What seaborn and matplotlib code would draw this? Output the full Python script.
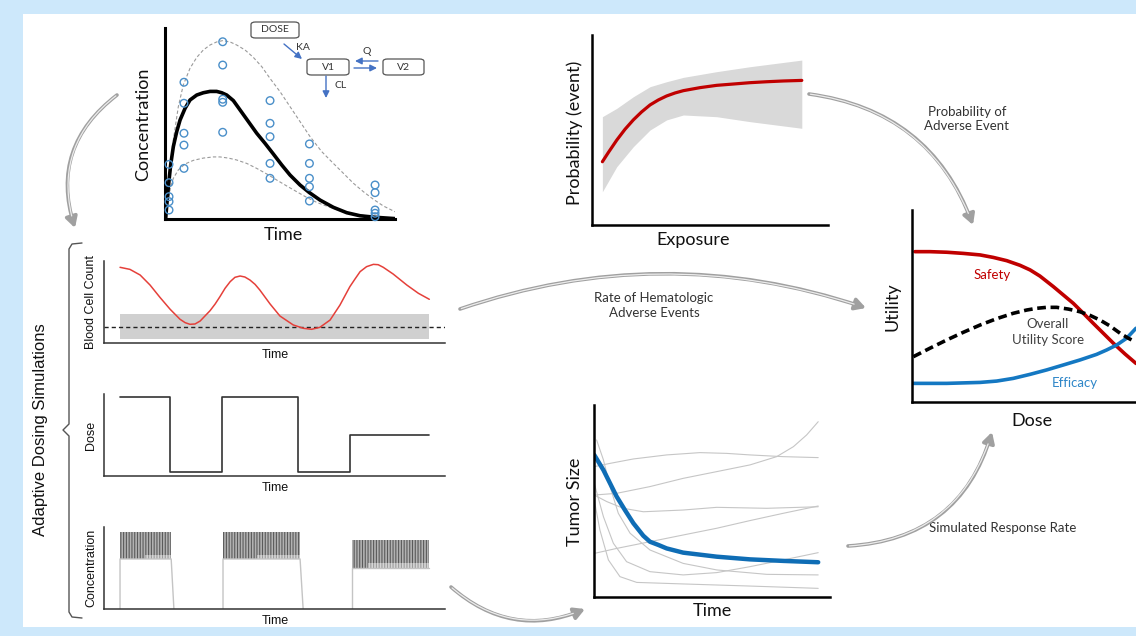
import matplotlib
matplotlib.use("Agg")
import matplotlib.pyplot as plt
import seaborn as sns
from matplotlib.patches import FancyArrowPatch, Rectangle, FancyBboxPatch
from matplotlib.lines import Line2D

W, H = 1136, 636

# ---------------- data ----------------
# PK panel (time in h, concentration arbitrary)
pk_mean_t = [0.07, 0.17, 0.35, 0.59, 0.87, 1.22, 1.57, 2.09, 2.61, 3.31, 4.0, 4.70, 5.39, 5.92, 6.44,
             7.13, 7.83, 8.70, 9.57, 10.44, 11.31, 12.18, 13.05, 14.09, 15.07, 16.18, 17.57, 18.96,
             20.35, 21.92, 24.0]
pk_mean_c = [0.03, 0.65, 1.69, 2.83, 3.79, 4.57, 5.18, 5.79, 6.23, 6.49, 6.61, 6.68, 6.68, 6.61, 6.49,
             6.20, 5.71, 5.10, 4.49, 3.96, 3.40, 2.83, 2.30, 1.78, 1.38, 0.99, 0.61, 0.33,
             0.17, 0.09, 0.02]
pk_hi_t = [0.17, 0.35, 0.59, 0.87, 1.39, 1.91, 2.61, 3.31, 4.0, 4.70, 5.39, 6.02, 6.79, 7.48, 8.35,
           9.22, 10.09, 10.96, 12.0, 13.05, 14.09, 15.14, 16.35, 17.57, 18.62, 19.66, 20.70, 21.75,
           22.79, 24.0]
pk_hi_c = [0.30, 1.34, 2.74, 4.14, 5.88, 7.02, 7.89, 8.46, 8.85, 9.11, 9.27, 9.34, 9.27, 9.11, 8.85,
           8.46, 7.98, 7.36, 6.67, 5.88, 5.10, 4.31, 3.53, 2.91, 2.39, 1.87, 1.43, 1.03,
           0.68, 0.38]
pk_lo_t = [0.17, 0.35, 0.59, 0.87, 1.39, 2.09, 2.96, 4.0, 5.05, 5.74, 6.61, 7.48, 8.53, 9.57, 10.61,
           11.66, 12.70, 13.74, 14.79, 15.83, 17.22, 18.62, 20.01, 21.75, 24.0]
pk_lo_c = [0.30, 0.99, 1.69, 2.13, 2.57, 2.88, 3.07, 3.19, 3.25, 3.25, 3.19, 3.09, 2.91, 2.65, 2.36,
           2.04, 1.73, 1.43, 1.13, 0.87, 0.61, 0.38, 0.24, 0.12, 0.03]
obs_t = [0.42] * 5 + [1.98] * 5 + [6.02] * 5 + [10.96] * 5 + [15.07] * 5 + [21.92] * 5
obs_c = [2.86, 1.90, 1.17, 0.91, 0.47,
         7.16, 6.06, 4.49, 3.87, 2.65,
         9.28, 8.06, 6.27, 6.11, 4.54,
         6.20, 5.01, 4.31, 2.91, 2.13,
         3.93, 2.91, 2.13, 1.69, 0.94,
         1.78, 1.38, 0.47, 0.30, 0.12]

# Exposure-response panel
prob_x = [0.44, 0.69, 1.05, 1.40, 1.75, 2.10, 2.46, 2.81, 3.16, 3.52, 3.87, 4.58, 5.28, 5.99, 6.69,
          7.40, 8.11, 8.89]
prob_y = [0.333, 0.381, 0.447, 0.504, 0.553, 0.595, 0.632, 0.658, 0.679, 0.695, 0.707, 0.723, 0.735,
          0.742, 0.749, 0.754, 0.758, 0.761]
band_x = [0.44, 1.05, 1.75, 2.46, 3.16, 3.87, 5.28, 6.69, 8.89]
band_hi = [0.570, 0.614, 0.675, 0.728, 0.754, 0.777, 0.807, 0.833, 0.868]
band_lo = [0.175, 0.307, 0.412, 0.500, 0.553, 0.579, 0.570, 0.544, 0.509]

# Utility panel
safety_x = [0.13, 0.80, 1.55, 2.29, 3.04, 3.63, 4.23, 4.82, 5.27, 5.71, 6.31, 6.76, 7.20, 7.65, 8.09,
            8.54, 8.99, 9.51, 10.0]
safety_y = [7.83, 7.83, 7.80, 7.74, 7.66, 7.53, 7.36, 7.12, 6.88, 6.56, 6.01, 5.57, 5.14, 4.62, 4.10,
            3.58, 3.06, 2.50, 2.01]
overall_x = [0.06, 0.80, 1.55, 2.29, 3.04, 3.78, 4.52, 5.12, 5.57, 6.01, 6.46, 6.98, 7.50, 7.95, 8.39,
             8.84, 9.29, 9.66, 9.96]
overall_y = [2.36, 2.80, 3.23, 3.63, 4.01, 4.34, 4.62, 4.79, 4.88, 4.93, 4.93, 4.84, 4.70, 4.51, 4.27,
             3.96, 3.58, 3.32, 3.14]
efficacy_x = [0.06, 1.55, 3.04, 3.78, 4.52, 5.27, 6.01, 6.76, 7.50, 8.24, 8.69, 9.14, 9.58, 10.0]
efficacy_y = [0.97, 0.97, 1.02, 1.09, 1.23, 1.44, 1.67, 1.93, 2.19, 2.48, 2.71, 2.97, 3.32, 3.84]

# Tumor size panel
tumor_mean_t = [0.01, 0.40, 0.96, 1.31, 1.67, 2.09, 2.37, 2.73, 3.08, 3.78, 5.2, 6.61, 8.02, 9.5]
tumor_mean_s = [7.40, 6.61, 5.23, 4.53, 3.84, 3.19, 2.88, 2.71, 2.53, 2.31, 2.10, 1.96, 1.88, 1.81]
tumor_ind_t = [
    [0.01, 0.68, 1.67, 3.08, 4.49, 5.62, 6.61, 8.02, 9.5],
    [0.01, 0.96, 2.37, 3.78, 5.2, 6.61, 7.74, 8.45, 9.01, 9.5],
    [0.01, 0.54, 1.24, 2.09, 3.78, 5.2, 7.32, 9.5],
    [0.01, 0.96, 2.37, 3.78, 5.2, 6.61, 8.02, 9.5],
    [0.11, 0.40, 0.68, 1.03, 1.53, 2.37, 3.78, 5.2, 7.32, 9.5],
    [0.01, 0.40, 0.82, 1.38, 2.37, 3.78, 5.2, 6.61, 8.02, 9.5],
    [0.01, 0.25, 0.61, 1.10, 1.81, 3.78, 6.61, 9.5],
]
tumor_ind_s = [
    [6.79, 6.96, 7.19, 7.40, 7.52, 7.48, 7.40, 7.31, 7.26],
    [5.31, 5.40, 5.75, 6.18, 6.53, 6.88, 7.31, 7.83, 8.44, 9.13],
    [5.31, 4.97, 4.62, 4.44, 4.53, 4.67, 4.62, 4.70],
    [2.27, 2.53, 2.88, 3.23, 3.58, 3.98, 4.36, 4.74],
    [8.18, 7.14, 5.75, 4.36, 3.32, 2.45, 1.75, 1.41, 1.18, 1.15],
    [5.92, 4.18, 2.80, 1.84, 1.32, 1.15, 1.27, 1.58, 1.93, 2.31],
    [5.05, 3.49, 1.93, 1.06, 0.76, 0.68, 0.57, 0.45],
]

# Blood cell count panel
bcc_t = [0.47, 0.76, 1.06, 1.35, 1.64, 1.94, 2.23, 2.38, 2.52, 2.67, 2.82, 2.96, 3.11, 3.26, 3.40,
         3.55, 3.70, 3.84, 3.99, 4.13, 4.28, 4.43, 4.57, 4.87, 5.16, 5.55, 5.85, 6.09, 6.33, 6.63,
         6.92, 7.21, 7.36, 7.51, 7.70, 7.90, 8.04, 8.19, 8.48, 8.88, 9.22, 9.54]
bcc_c = [9.23, 8.98, 8.29, 7.07, 5.57, 4.11, 2.89, 2.48, 2.28, 2.32, 2.68, 3.29, 3.94, 4.76, 5.65,
         6.67, 7.48, 8.01, 8.17, 8.05, 7.68, 7.15, 6.46, 4.76, 3.29, 2.20, 1.79, 1.67, 1.91, 2.80,
         4.63, 6.87, 7.80, 8.70, 9.31, 9.59, 9.55, 9.23, 8.41, 7.07, 6.06, 5.33]
bcc_band_t = [0.47, 9.54]
bcc_band_lo = [0.49, 0.49]
bcc_band_hi = [3.54, 3.54]
bcc_threshold = 1.95

# Dose panel
dose_t = [0.47, 1.94, 3.46, 5.69, 7.21, 9.53]
dose_v = [9.6, 0.5, 9.6, 0.5, 5.0, 5.0]

# Concentration (dosing blocks)
conc_t0 = [0.47, 3.49, 7.27]
conc_t1 = [1.97, 5.75, 9.53]
conc_tend = [2.05, 5.84, None]
conc_peak = [9.39, 9.39, 8.41]
conc_mid = [6.59, 6.59, 5.60]
conc_trough = [6.10, 6.10, 5.00]
conc_light_t = [1.20, 4.49, 7.74]

# ---------------- style ----------------
sns.set_theme(style="white")
plt.rcParams['font.family'] = ['Lato', 'DejaVu Sans']
plt.rcParams['hatch.linewidth'] = 0.8

fig = plt.figure(figsize=(W / 100, H / 100), dpi=100)
fig.patch.set_facecolor('#CDE8FB')
fig.add_artist(Rectangle((23 / W, 1 - 627 / H), (W - 23) / W, (627 - 14) / H,
                         transform=fig.transFigure, facecolor='white', edgecolor='none', zorder=-10))


def box(x0, y0, x1, y1):
    return [x0 / W, 1 - y1 / H, (x1 - x0) / W, (y1 - y0) / H]


def fpos(x, y):
    return (x / W, 1 - y / H)


def style_ax(ax, lw, color='black'):
    for s in ['top', 'right']:
        ax.spines[s].set_visible(False)
    for s in ['left', 'bottom']:
        ax.spines[s].set_linewidth(lw)
        ax.spines[s].set_color(color)
        ax.spines[s].set_capstyle('projecting')
    ax.set_xticks([])
    ax.set_yticks([])
    ax.set_xlabel('')
    ax.set_ylabel('')
    ax.set_facecolor('none')


def ftext(x, y, s, size, rot=0, color='#111111', family=None, **kw):
    fam = family if family is not None else ['Lato', 'DejaVu Sans']
    fig.text(x / W, 1 - y / H, s, fontsize=size, rotation=rot, color=color, ha='center', va='center',
             family=fam, **kw)


ARIAL = ['Liberation Sans', 'DejaVu Sans']

# ---------------- PK panel ----------------
ax = fig.add_axes(box(165, 28, 395, 219))
sns.lineplot(x=pk_hi_t, y=pk_hi_c, ax=ax, color='#9a9a9a', lw=0.8, linestyle=(0, (3, 2)), estimator=None, sort=False)
sns.lineplot(x=pk_lo_t, y=pk_lo_c, ax=ax, color='#9a9a9a', lw=0.8, linestyle=(0, (3, 2)), estimator=None, sort=False)
sns.lineplot(x=pk_mean_t, y=pk_mean_c, ax=ax, color='black', lw=2.6, estimator=None, sort=False,
             solid_joinstyle='round')
sns.scatterplot(x=obs_t, y=obs_c, ax=ax, marker='o', s=30, color='#4a8fc9', facecolor='none',
                edgecolor='#4a8fc9', linewidth=1.0, clip_on=False, zorder=4)
ax.set_xlim(0, 24)
ax.set_ylim(0, 10)
style_ax(ax, 2.2)
ftext(143, 124, 'Concentration', 13, rot=90)
ftext(283, 235, 'Time', 13)

# compartment diagram
for (x0, y0, x1, y1, lab) in [(251, 22, 299, 38, 'DOSE'), (307, 59, 349, 75, 'V1'), (383, 59, 424, 75, 'V2')]:
    fig.add_artist(FancyBboxPatch(fpos(x0, y1), (x1 - x0) / W, (y1 - y0) / H, transform=fig.transFigure,
                                  boxstyle='round,pad=0,rounding_size=0.004', facecolor='white',
                                  edgecolor='#555555', lw=0.9))
    ftext((x0 + x1) / 2, (y0 + y1) / 2, lab, 7.5, color='#333333')
for (p0, p1) in [((284, 44), (302, 59)), ((378, 61), (355, 61)), ((354, 68), (377, 68)), ((326, 76), (326, 98))]:
    fig.add_artist(FancyArrowPatch(fpos(*p0), fpos(*p1), transform=fig.transFigure,
                                   arrowstyle='-|>,head_length=0.5,head_width=0.25', mutation_scale=8,
                                   lw=1.0, color='#4472C4', shrinkA=0, shrinkB=0))
ftext(303, 48, 'KA', 7.5, color='#333333')
ftext(367, 51, 'Q', 7.5, color='#333333')
ftext(341, 86, 'CL', 7.5, color='#333333')

# ---------------- Exposure-response panel ----------------
ax = fig.add_axes(box(592, 35, 828, 225))
ax.fill_between(band_x, band_lo, band_hi, color='#d9d9d9', lw=0)
sns.lineplot(x=prob_x, y=prob_y, ax=ax, color='#C00000', lw=2.3, estimator=None, sort=False)
ax.set_xlim(0, 10)
ax.set_ylim(0, 1)
style_ax(ax, 1.8)
ftext(575, 133, 'Probability (event)', 13, rot=90)
ftext(693, 240, 'Exposure', 13)

# ---------------- Utility panel ----------------
ax = fig.add_axes(box(912, 210, 1136, 402))
sns.lineplot(x=safety_x, y=safety_y, ax=ax, color='#C00000', lw=2.6, estimator=None, sort=False)
sns.lineplot(x=efficacy_x, y=efficacy_y, ax=ax, color='#1478C2', lw=2.6, estimator=None, sort=False)
sns.lineplot(x=overall_x, y=overall_y, ax=ax, color='black', lw=2.6, linestyle=(0, (2.4, 1.3)),
             estimator=None, sort=False)
ax.set_xlim(0, 10)
ax.set_ylim(0, 10)
style_ax(ax, 1.8)
ftext(892, 307, 'Utility', 13, rot=90)
ftext(1032, 421, 'Dose', 13)
ftext(992, 275, 'Safety', 9.5, color='#C00000')
ftext(1048, 332, 'Overall\nUtility Score', 9.5, color='#404040', linespacing=1.3)
ftext(1075, 383, 'Efficacy', 9.5, color='#2E86C8')

# ---------------- Tumor panel ----------------
ax = fig.add_axes(box(594, 405, 830, 597))
for tt, ss in zip(tumor_ind_t, tumor_ind_s):
    sns.lineplot(x=tt, y=ss, ax=ax, color='#c6c6c6', lw=0.8, estimator=None, sort=False)
sns.lineplot(x=tumor_mean_t, y=tumor_mean_s, ax=ax, color='#0F6DB5', lw=3.2, estimator=None, sort=False)
ax.set_xlim(0, 10)
ax.set_ylim(0, 10)
style_ax(ax, 1.8)
ftext(575, 502, 'Tumor Size', 13, rot=90)
ftext(712, 611, 'Time', 13)

# ---------------- Blood cell count panel ----------------
ax = fig.add_axes(box(104, 261, 445, 343))
ax.fill_between(bcc_band_t, bcc_band_lo, bcc_band_hi, color='#d0d0d0', lw=0)
ax.axhline(bcc_threshold, color='#222222', lw=1.0, linestyle=(0, (3, 2.2)))
sns.lineplot(x=bcc_t, y=bcc_c, ax=ax, color='#E5403A', lw=1.1, estimator=None, sort=False)
ax.set_xlim(0, 10)
ax.set_ylim(0, 10)
style_ax(ax, 1.1, '#333333')
ftext(91, 302, 'Blood Cell Count', 9, rot=90, family=ARIAL)
ftext(275, 355, 'Time', 9, family=ARIAL)

# ---------------- Dose panel ----------------
ax = fig.add_axes(box(104, 394, 445, 476))
sns.lineplot(x=dose_t, y=dose_v, ax=ax, color='#333333', lw=1.2, drawstyle='steps-post',
             estimator=None, sort=False)
ax.set_xlim(0, 10)
ax.set_ylim(0, 10)
style_ax(ax, 1.1, '#333333')
ftext(91, 435, 'Dose', 9, rot=90, family=ARIAL)
ftext(275, 488, 'Time', 9, family=ARIAL)

# ---------------- Concentration blocks panel ----------------
ax = fig.add_axes(box(104, 527, 445, 609))
for t0, t1, te, pk, md, tr, tl in zip(conc_t0, conc_t1, conc_tend, conc_peak, conc_mid, conc_trough, conc_light_t):
    ox = [t0, t0, t1] + ([te] if te is not None else [])
    oy = [0, tr, tr] + ([0] if te is not None else [])
    sns.lineplot(x=ox, y=oy, ax=ax, color='#c4c4c4', lw=1.0, estimator=None, sort=False)
    ax.fill_between([t0, t1], [md, md], [pk, pk], facecolor='#b2b2b2', edgecolor='#5a5a5a',
                    hatch='||||||', lw=0)
    ax.fill_between([t0, tl], [tr, tr], [md, md], facecolor='#b2b2b2', edgecolor='#5a5a5a',
                    hatch='||||||', lw=0)
    ax.fill_between([tl, t1], [tr, tr], [md, md], facecolor='#d6d6d6', edgecolor='#9c9c9c',
                    hatch='||||||', lw=0)
ax.set_xlim(0, 10)
ax.set_ylim(0, 10)
style_ax(ax, 1.1, '#333333')
ftext(91, 568, 'Concentration', 9, rot=90, family=ARIAL)
ftext(275, 621, 'Time', 9, family=ARIAL)

# ---------------- brace + side title ----------------
brace_x = [82, 72, 69, 69, 63, 69, 69, 72, 82]
brace_y = [243, 244, 249, 424, 430, 436, 612, 617, 618]
fig.add_artist(Line2D([x / W for x in brace_x], [1 - y / H for y in brace_y], transform=fig.transFigure,
                      color='#555555', lw=1.0))
ftext(41, 430, 'Adaptive Dosing Simulations', 12, rot=90, family=ARIAL)


# ---------------- connecting arrows ----------------
def garrow(p0, p1, rad):
    fig.add_artist(FancyArrowPatch(fpos(*p0), fpos(*p1), transform=fig.transFigure,
                                   connectionstyle=f"arc3,rad={rad}",
                                   arrowstyle="-|>,head_length=0.45,head_width=0.25", mutation_scale=14,
                                   lw=2.6, color='#a0a0a0', shrinkA=0, shrinkB=0, zorder=5))
    fig.add_artist(FancyArrowPatch(fpos(*p0), fpos(*p1), transform=fig.transFigure,
                                   connectionstyle=f"arc3,rad={rad}", arrowstyle="-",
                                   lw=0.9, color='#ececec', shrinkA=1, shrinkB=9, zorder=6))


garrow((117, 95), (75, 228), 0.35)
garrow((809, 94), (973, 225), -0.3)
garrow((460, 309), (866, 308), -0.17)
garrow((848, 546), (992, 432), 0.35)
garrow((451, 587), (585, 609), 0.31)

ftext(967, 119, 'Probability of\nAdverse Event', 9.5, color='#333333', linespacing=1.3)
ftext(654, 305, 'Rate of Hematologic\nAdverse Events', 9.5, color='#333333', linespacing=1.3)
ftext(1003, 528, 'Simulated Response Rate', 9.5, color='#333333')

fig.savefig('out.png', dpi=100)
